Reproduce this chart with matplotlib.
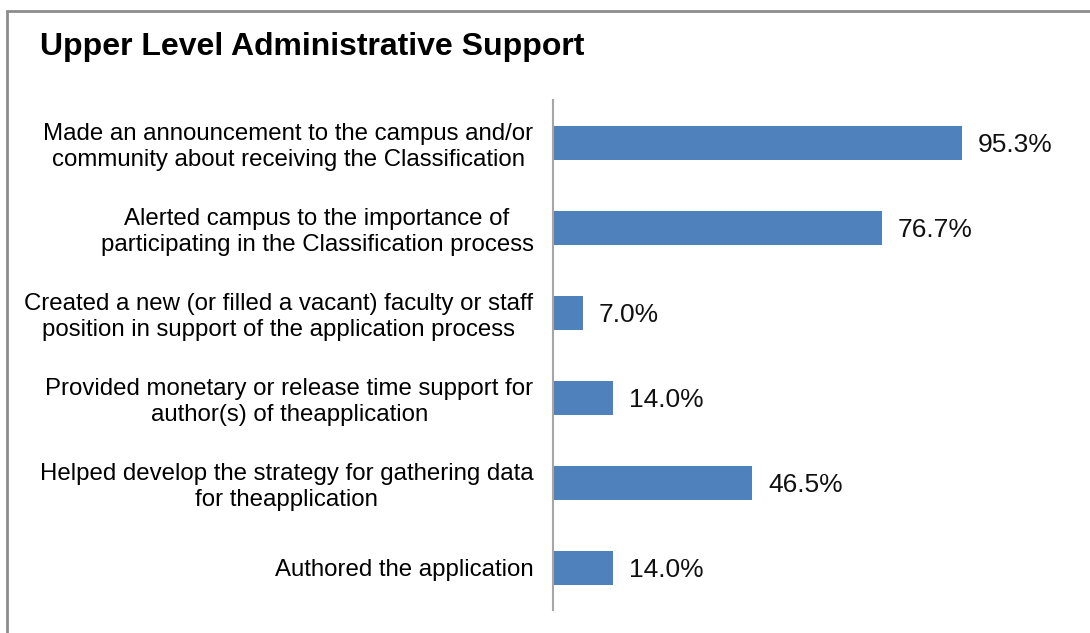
import matplotlib.pyplot as plt
from matplotlib.patches import Rectangle

# survey results, listed top to bottom
activities = [
    "Made an announcement to the campus and/or\ncommunity about receiving the Classification",
    "Alerted campus to the importance of\nparticipating in the Classification process",
    "Created a new (or filled a vacant) faculty or staff\nposition in support of the application process",
    "Provided monetary or release time support for\nauthor(s) of theapplication",
    "Helped develop the strategy for gathering data\nfor theapplication",
    "Authored the application",
]
percents = [95.3, 76.7, 7.0, 14.0, 46.5, 14.0]

BAR_COLOR = "#4F81BD"

plt.rcParams["font.family"] = ["Liberation Sans", "DejaVu Sans"]

fig = plt.figure(figsize=(10.9, 6.33), dpi=100)

# grey frame around the chart area (runs off the right and bottom edges)
fig.patches.append(Rectangle((7 / 1090, -0.05), 1.2, 1 - 11 / 633 + 0.05,
                             transform=fig.transFigure, fill=False,
                             edgecolor="#8c8c8c", linewidth=2))

ax = fig.add_axes([553 / 1090, 23 / 633, 429 / 1090, 510 / 633])

ypos = list(range(len(activities)))
ax.barh(ypos, percents, height=0.4, color=BAR_COLOR)
ax.set_ylim(len(activities) - 0.5, -0.5)
ax.set_xlim(0, 100)

for y, v in zip(ypos, percents):
    ax.text(v + 3.6, y + 0.03, f"{v:.1f}%", va="center", ha="left", fontsize=19, color="#111111")

ax.set_yticks(ypos)
ax.set_yticklabels(activities, fontsize=17.3, ha="right", multialignment="center",
                   linespacing=1.22)
ax.tick_params(axis="y", length=0, pad=14)
ax.set_xticks([])

for s in ["top", "right", "bottom"]:
    ax.spines[s].set_visible(False)
ax.spines["left"].set_color("#a6a6a6")
ax.spines["left"].set_linewidth(1.5)

fig.text(40 / 1090, 1 - 47 / 633, "Upper Level Administrative Support",
         fontsize=23, fontweight="bold", va="center", ha="left")

fig.savefig("out.png", dpi=100)
